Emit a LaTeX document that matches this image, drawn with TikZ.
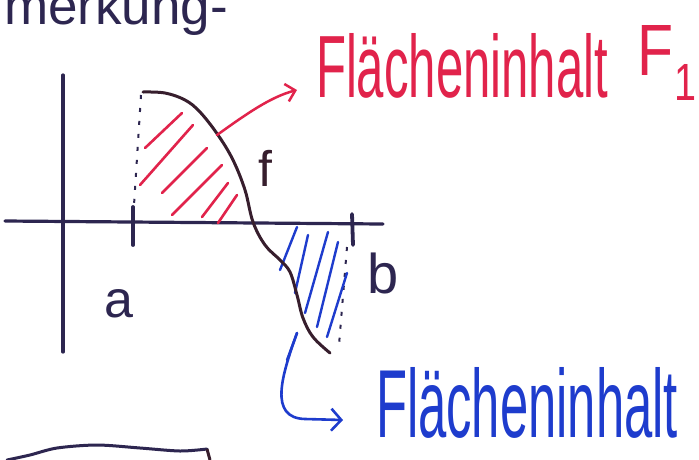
\documentclass[tikz,border=0pt]{standalone}
\usepackage{fontspec}
\setmainfont{Liberation Sans}
\usetikzlibrary{arrows.meta}
\definecolor{ink}{RGB}{45,38,80}
\definecolor{curveink}{RGB}{55,30,45}
\definecolor{redink}{RGB}{225,35,75}
\definecolor{blueink}{RGB}{30,60,205}
\begin{document}
\begin{tikzpicture}[x=1pt,y=-1pt,
  axis/.style={ink,line width=3.2pt,line cap=round},
  tickmark/.style={ink,line width=3.8pt,line cap=round},
  bound/.style={ink,line width=2pt,dash pattern=on 4pt off 9pt},
  fcurve/.style={curveink,line width=3pt,line cap=round,line join=round},
  hatchred/.style={redink,line width=2.6pt,line cap=round},
  hatchblue/.style={blueink,line width=2.4pt,line cap=round},
  redarrow/.style={redink,line width=2.5pt,line cap=round,-{Straight Barb[length=9pt,width=18pt,line width=2.5pt]}},
  bluearrow/.style={blueink,line width=2.6pt,line cap=round,-{Straight Barb[length=10pt,width=22pt,line width=2.6pt]}},
  lbl/.style={inner sep=0pt,outer sep=0pt}]
\useasboundingbox[fill=white] (0,0) rectangle (699,459);

% heading fragment
\node[lbl,anchor=base west,text=ink] (head) at (4,24) {\resizebox{224pt}{!}{merkung-}};

% axes
\draw[axis] (5,221) -- (383,224);
\draw[axis] (63,75) -- (63,352);
\draw[tickmark] (133,207) -- (133,245);
\draw[tickmark] (352,214) -- (353,245);

% boundaries
\draw[bound] (141,95) -- (134,205);
\draw[bound] (347,247) -- (339,345);

% red hatching
\draw[hatchred] (145,148) -- (182,113);
\draw[hatchred] (140,185) -- (193,125);
\draw[hatchred] (162,193) -- (207,148);
\draw[hatchred] (172,215) -- (222,165);
\draw[hatchred] (202,217) -- (228,183);
\draw[hatchred] (218,223) -- (237,195);

% blue hatching
\draw[hatchblue] (280,270) -- (297,227);
\draw[hatchblue] (295,293) -- (308,235);
\draw[hatchblue] (305,313) -- (328,232);
\draw[hatchblue] (317,327) -- (338,242);
\draw[hatchblue] (327,337) -- (347,273);
\draw[hatchblue] (287,360) -- (297,333);

% function curve
\draw[fcurve] plot[smooth,tension=0.6] coordinates {(143,92) (165,93) (185,100) (200,112) (218,135) (233,160) (245,190) (253,222) (265,245) (280,260) (290,272) (297,295) (303,318) (313,337) (330,353)};

% labels
\node[lbl,text=curveink,font=\fontsize{50}{50}\selectfont,anchor=base] (flabel) at (265,186) {f};
\node[lbl,text=ink,font=\fontsize{52}{52}\selectfont,anchor=base] (alabel) at (119,317) {a};
\node[lbl,text=ink,font=\fontsize{56}{56}\selectfont,anchor=base] (blabel) at (383,293) {b};

% red label and arrow
\node[lbl,anchor=base west,text=redink] (redlabel) at (316,97) {\resizebox{292pt}{64pt}{Flächeninhalt}};
\node[lbl,anchor=base west,text=redink] (redF) at (637,75) {\resizebox{36pt}{50pt}{F}};
\node[lbl,anchor=base west,text=redink] (redone) at (674,100) {\resizebox{22pt}{36pt}{1}};
\coordinate (redfrom) at (217,135);
\coordinate (redto) at (297,90);
\draw[redarrow] (redfrom) .. controls (245,115) and (270,97) .. (redto);

% blue label and arrow
\node[lbl,anchor=base west,text=blueink] (bluelabel) at (376,437) {\resizebox{302pt}{70pt}{Flächeninhalt}};
\coordinate (bluefrom) at (297,333);
\coordinate (blueto) at (343,420);
\draw[bluearrow] (bluefrom) .. controls (282,375) and (268,418) .. (305,419) -- (blueto);

% bottom-left stroke
\draw[ink,line width=3pt,line cap=round] plot[smooth,tension=0.5] coordinates {(7,460) (30,455) (57,448) (97,445) (140,448) (180,451) (207,449)};
\draw[curveink,line width=3pt] (207,449) -- (210,460);
\end{tikzpicture}
\end{document}
